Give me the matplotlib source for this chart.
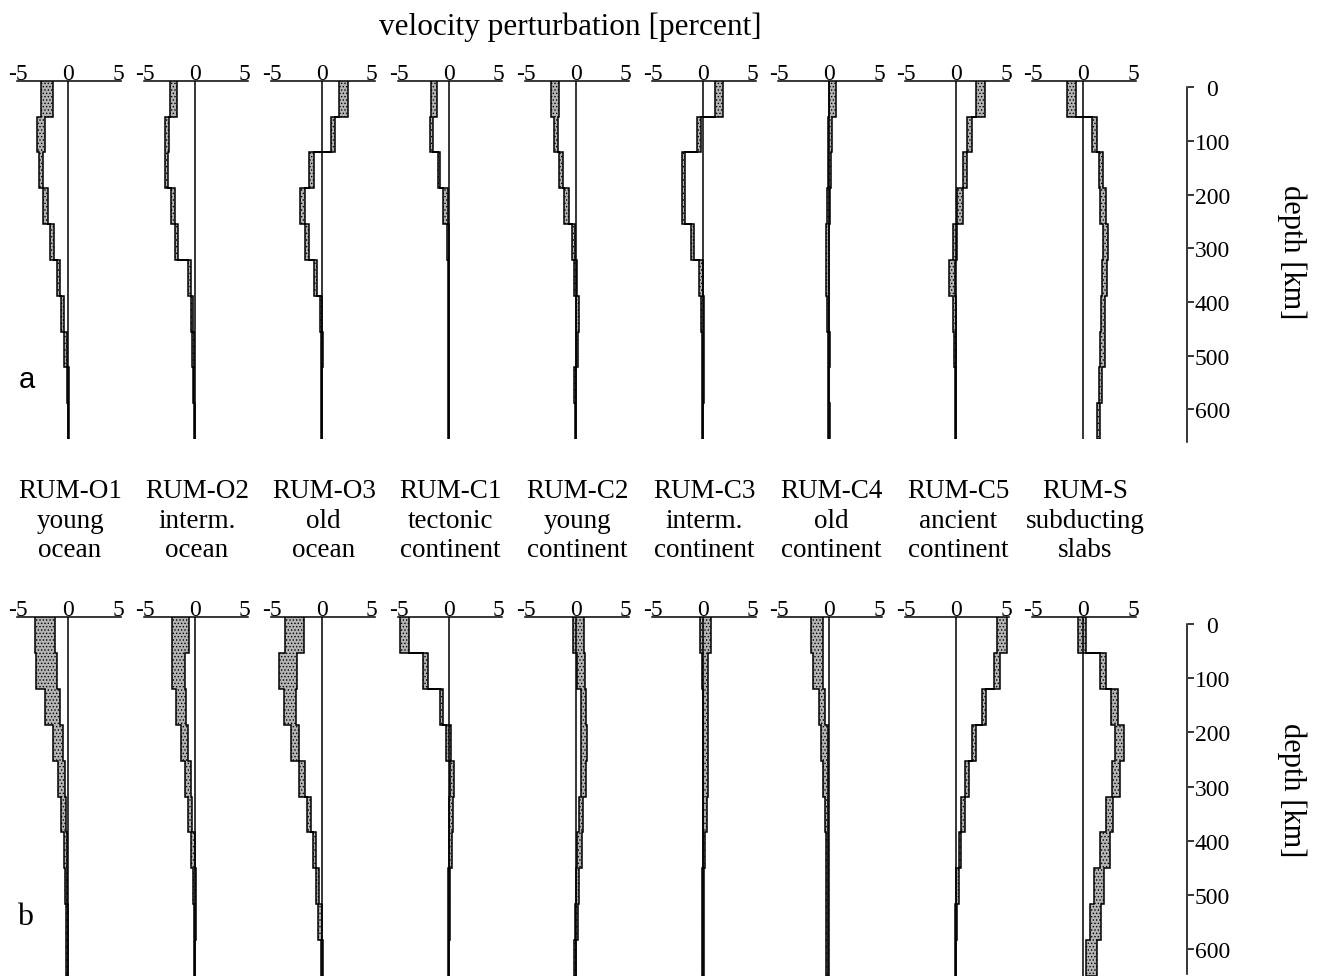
import matplotlib
matplotlib.use('Agg')
import matplotlib.pyplot as plt

plt.rcParams['font.family'] = ['Liberation Serif', 'DejaVu Serif']
plt.rcParams['hatch.linewidth'] = 0.6

W, H = 1319, 978
fig = plt.figure(figsize=(W / 100, H / 100), dpi=100)

# ---------------- data ----------------
model_names = ['RUM-O1', 'RUM-O2', 'RUM-O3', 'RUM-C1', 'RUM-C2',
               'RUM-C3', 'RUM-C4', 'RUM-C5', 'RUM-S']
region_line1 = ['young', 'interm.', 'old', 'tectonic', 'young',
                'interm.', 'old', 'ancient', 'subducting']
region_line2 = ['ocean', 'ocean', 'ocean', 'continent', 'continent',
                'continent', 'continent', 'continent', 'slabs']
layer_edges = [0, 67, 134, 201, 268, 335, 402, 469, 536, 603, 670]
vel_ticks = [-5, 0, 5]
depth_ticks = [0, 100, 200, 300, 400, 500, 600]

# panel a: left / right edge of shaded band in each layer (percent)
a_o1_lo = [-2.67, -3.07, -2.90, -2.50, -1.83, -1.10, -0.67, -0.40, -0.10, 0.00]
a_o1_hi = [-1.50, -2.33, -2.50, -2.00, -1.40, -0.77, -0.43, -0.07, 0.05, 0.10]
a_o2_lo = [-2.50, -3.00, -3.00, -2.40, -2.00, -0.67, -0.40, -0.33, -0.20, -0.13]
a_o2_hi = [-1.77, -2.60, -2.67, -2.00, -1.67, -0.40, -0.17, -0.13, -0.07, 0.00]
a_o3_lo = [1.73, 0.93, -1.27, -2.17, -1.67, -0.77, -0.23, -0.10, -0.05, -0.05]
a_o3_hi = [2.57, 1.27, -0.83, -1.73, -1.27, -0.50, 0.00, 0.07, 0.05, 0.05]
a_c1_lo = [-1.73, -1.83, -1.10, -0.57, -0.20, -0.10, -0.07, -0.07, -0.07, -0.07]
a_c1_hi = [-1.17, -1.57, -0.83, -0.07, 0.07, 0.07, 0.03, 0.03, 0.03, 0.03]
a_c2_lo = [-2.47, -2.13, -1.67, -1.13, -0.40, -0.17, 0.00, 0.00, -0.13, -0.10]
a_c2_hi = [-1.67, -1.80, -1.23, -0.63, -0.07, 0.17, 0.33, 0.27, 0.03, 0.00]
a_c3_lo = [1.27, -0.57, -2.07, -2.07, -1.17, -0.33, -0.17, -0.10, -0.10, -0.07]
a_c3_hi = [2.00, -0.17, -1.73, -1.73, -0.90, 0.00, 0.17, 0.17, 0.10, 0.03]
a_c4_lo = [0.00, -0.10, -0.18, -0.25, -0.35, -0.35, -0.25, -0.18, -0.18, -0.10]
a_c4_hi = [0.70, 0.25, 0.18, 0.10, 0.00, 0.00, 0.00, 0.05, 0.00, 0.03]
a_c5_lo = [2.00, 1.10, 0.64, 0.10, -0.36, -0.71, -0.36, -0.25, -0.18, -0.14]
a_c5_hi = [2.86, 1.54, 1.10, 0.64, 0.10, -0.10, 0.00, 0.00, 0.00, 0.00]
a_s_lo = [-1.66, 0.86, 1.55, 1.72, 2.00, 1.90, 1.80, 1.72, 1.55, 1.38]
a_s_hi = [-0.69, 1.38, 2.00, 2.24, 2.48, 2.34, 2.17, 2.14, 1.90, 1.66]

# panel b
b_o1_lo = [-3.27, -3.17, -2.27, -1.50, -1.00, -0.67, -0.43, -0.33, -0.23, -0.17]
b_o1_hi = [-1.27, -1.10, -0.77, -0.50, -0.33, -0.20, -0.10, -0.10, -0.03, 0.00]
b_o2_lo = [-2.27, -2.33, -1.87, -1.43, -1.03, -0.70, -0.37, -0.20, -0.13, -0.10]
b_o2_hi = [-0.60, -1.00, -0.87, -0.70, -0.43, -0.27, -0.03, 0.07, 0.07, 0.03]
b_o3_lo = [-3.67, -4.27, -3.77, -3.10, -2.33, -1.53, -0.93, -0.60, -0.37, -0.10]
b_o3_hi = [-1.83, -2.53, -2.60, -2.27, -1.67, -1.10, -0.60, -0.33, 0.00, 0.13]
b_c1_lo = [-4.88, -2.54, -0.92, -0.24, 0.10, 0.00, 0.00, -0.07, -0.07, -0.07]
b_c1_hi = [-3.97, -2.03, -0.58, 0.27, 0.50, 0.44, 0.34, 0.14, 0.10, 0.07]
b_c2_lo = [-0.24, 0.17, 0.50, 0.58, 0.50, 0.34, 0.17, 0.00, -0.07, -0.13]
b_c2_hi = [0.85, 0.92, 1.00, 1.10, 1.00, 0.75, 0.60, 0.34, 0.20, 0.00]
b_c3_lo = [-0.27, -0.07, 0.00, 0.07, 0.07, 0.07, 0.00, -0.07, -0.07, -0.07]
b_c3_hi = [0.85, 0.50, 0.50, 0.50, 0.50, 0.43, 0.27, 0.13, 0.10, 0.10]
b_c4_lo = [-1.86, -1.68, -1.09, -0.80, -0.63, -0.46, -0.35, -0.35, -0.30, -0.30]
b_c4_hi = [-0.63, -0.63, -0.46, -0.10, -0.10, -0.10, -0.10, -0.14, -0.14, -0.14]
b_c5_lo = [4.04, 3.75, 2.60, 1.58, 0.88, 0.49, 0.25, 0.00, -0.10, -0.17]
b_c5_hi = [5.05, 4.39, 2.98, 2.00, 1.30, 0.84, 0.49, 0.25, 0.07, 0.00]
b_s_lo = [-0.53, 1.68, 2.74, 3.16, 2.88, 2.28, 1.68, 1.05, 0.63, 0.28]
b_s_hi = [0.28, 2.28, 3.50, 4.04, 3.68, 2.98, 2.63, 2.10, 1.75, 1.33]

row_a = [(a_o1_lo, a_o1_hi), (a_o2_lo, a_o2_hi), (a_o3_lo, a_o3_hi),
         (a_c1_lo, a_c1_hi), (a_c2_lo, a_c2_hi), (a_c3_lo, a_c3_hi),
         (a_c4_lo, a_c4_hi), (a_c5_lo, a_c5_hi), (a_s_lo, a_s_hi)]
row_b = [(b_o1_lo, b_o1_hi), (b_o2_lo, b_o2_hi), (b_o3_lo, b_o3_hi),
         (b_c1_lo, b_c1_hi), (b_c2_lo, b_c2_hi), (b_c3_lo, b_c3_hi),
         (b_c4_lo, b_c4_hi), (b_c5_lo, b_c5_hi), (b_s_lo, b_s_hi)]

# ---------------- layout helpers (pixels) ----------------
XMIN, XMAX = -5.1, 5.3
PX_PER_UNIT = 10.0


def add_px_axes(left, top, width, height):
    return fig.add_axes([left / W, 1 - (top + height) / H, width / W, height / H])


def draw_row(data, top_px, bottom_px):
    for i, (lo, hi) in enumerate(data):
        x0 = 68 + 126.9 * i
        left = x0 + XMIN * PX_PER_UNIT
        width = (XMAX - XMIN) * PX_PER_UNIT
        ax = add_px_axes(left, top_px, width, bottom_px - top_px)
        ax.stairs(hi, layer_edges, baseline=lo, orientation='horizontal',
                  fill=True, facecolor='#b4b4b4', edgecolor='black',
                  linewidth=1.1, hatch='.....', zorder=3)
        ax.axvline(0, color='black', lw=1.1, zorder=4)
        ax.set_xlim(XMIN, XMAX)
        ax.set_ylim(layer_edges[-1], layer_edges[0])
        for s in ['left', 'right', 'bottom']:
            ax.spines[s].set_visible(False)
        ax.spines['top'].set_linewidth(1.1)
        ax.set_yticks([])
        ax.xaxis.tick_top()
        ax.set_xticks(vel_ticks)
        ax.set_xticklabels([str(t) for t in vel_ticks])
        ax.tick_params(axis='x', length=0, pad=-2.5, labelsize=17)
        ax.patch.set_alpha(0)


def draw_depth_axis(top_px, bottom_px, dmax):
    ax = add_px_axes(1187, top_px, 1, bottom_px - top_px)
    ax.set_ylim(dmax, 0)
    ax.set_xticks([])
    for s in ['top', 'right', 'bottom']:
        ax.spines[s].set_visible(False)
    ax.spines['left'].set_linewidth(1.1)
    ax.yaxis.tick_right()
    ax.set_yticks(depth_ticks)
    ax.set_yticklabels([str(t) for t in depth_ticks])
    ax.tick_params(axis='y', direction='out', length=4.5, width=1.1,
                   pad=13, labelsize=17)
    for lbl in ax.get_yticklabels():
        lbl.set_horizontalalignment('center')
    ax.patch.set_alpha(0)


draw_row(row_a, 81.7, 440)
draw_row(row_b, 618, 977)
draw_depth_axis(88.3, 443, 661)
draw_depth_axis(625, 975, 646)

# ---------------- texts ----------------
fig.text(570 / W, 1 - 27 / H, 'velocity perturbation [percent]',
         ha='center', va='center', fontsize=22.5)
for yc in (252, 790):
    fig.text(1292 / W, 1 - yc / H, 'depth [km]', rotation=-90,
             ha='center', va='center', fontsize=22)

for i in range(9):
    xc = (68 + 126.9 * i + 2) / W
    fig.text(xc, 1 - 498 / H, model_names[i], ha='center', va='baseline', fontsize=19.5)
    fig.text(xc, 1 - 528 / H, region_line1[i], ha='center', va='baseline', fontsize=19.5)
    fig.text(xc, 1 - 557 / H, region_line2[i], ha='center', va='baseline', fontsize=19.5)

fig.text(19 / W, 1 - 388 / H, 'a', ha='left', va='baseline', fontsize=21,
         family=['Liberation Sans', 'DejaVu Sans'])
fig.text(17 / W, 1 - 925 / H, 'b', ha='left', va='baseline', fontsize=23)

fig.savefig('out.png', dpi=100, facecolor='white')
